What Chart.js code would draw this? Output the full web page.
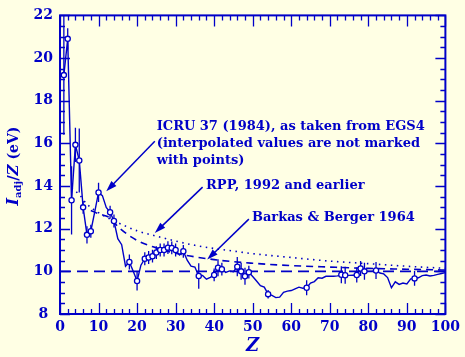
<!DOCTYPE html>
<html>
<head>
<meta charset="utf-8">
<script src="https://cdn.jsdelivr.net/npm/chart.js@4.4.0/dist/chart.umd.min.js"></script>
<style>
  html, body { margin: 0; padding: 0; background: #FFFFE4; }
  #wrap { width: 465px; height: 357px; position: relative; }
</style>
</head>
<body>
<div id="wrap"><canvas id="c"></canvas></div>
<script>
// ---- Data ----
// ICRU 37 adopted I/Z (eV) for Z = 1..100 (joined by a solid line)
const icruZ = [1,2,3,4,5,6,7,8,9,10,11,12,13,14,15,16,17,18,19,20,
  21,22,23,24,25,26,27,28,29,30,31,32,33,34,35,36,37,38,39,40,
  41,42,43,44,45,46,47,48,49,50,51,52,53,54,55,56,57,58,59,60,
  61,62,63,64,65,66,67,68,69,70,71,72,73,74,75,76,77,78,79,80,
  81,82,83,84,85,86,87,88,89,90,91,92,93,94,95,96,97,98,99,100];
const icruVal = [19.2,20.9,13.33,15.93,15.2,13.0,11.71,11.88,12.78,13.7,13.55,13.0,12.77,12.36,11.53,11.25,10.24,10.44,10.0,9.55,
  10.29,10.59,10.65,10.71,10.88,11.0,11.0,11.11,11.1,11.0,10.77,10.94,10.52,10.24,10.2,9.78,9.81,9.63,9.72,9.83,
  10.17,10.1,9.95,10.02,9.98,10.22,10.0,9.77,9.96,9.76,9.55,9.33,9.26,8.93,8.87,8.77,8.79,9.02,9.07,9.1,
  9.18,9.26,9.21,9.23,9.45,9.52,9.7,9.68,9.77,9.77,9.77,9.79,9.84,9.82,9.81,9.82,9.83,10.13,10.0,10.0,
  10.0,10.04,9.92,9.88,9.71,9.23,9.51,9.39,9.45,9.41,9.65,9.67,9.7,9.8,9.83,9.78,9.81,9.86,9.9,9.94];

// Values based on measurements (open circles with error flags)
const measZ   = [1,2,3,4,5,6,7,8,10,13,14,18,20,22,23,24,25,26,27,28,29,30,32,36,40,41,42,46,47,48,49,54,64,73,74,77,78,79,82,92];
const measVal = [19.2,20.9,13.33,15.93,15.2,13.0,11.71,11.88,13.7,12.77,12.36,10.44,9.55,10.59,10.65,10.71,10.88,11.0,11.0,11.11,11.1,11.0,10.94,9.78,9.83,10.17,10.1,10.22,10.0,9.77,9.96,8.93,9.23,9.84,9.82,9.83,10.13,10.0,10.04,9.67];
const measErr = [2.8,0.5,1.6,0.8,1.5,0.3,0.4,0.3,0.45,0.3,0.3,0.35,0.45,0.3,0.3,0.3,0.3,0.3,0.3,0.3,0.3,0.3,0.3,0.6,0.3,0.4,0.3,0.45,0.4,0.4,0.3,0.2,0.35,0.4,0.4,0.35,0.35,0.4,0.4,0.35];

// RPP, 1992 and earlier (dotted)
const rppZ   = [3,5,7,10,13,16,20,25,30,35,40,45,50,60,70,80,90,100];
const rppVal = [13.9,13.6,13.15,12.75,12.45,12.2,11.9,11.65,11.42,11.22,11.07,10.95,10.83,10.65,10.48,10.36,10.24,10.14];

// Barkas & Berger 1964 (dashed)
const bbZ   = [8,10,13,15,20,25,30,40,50,60,70,80,90,100];
const bbVal = [12.85,12.7,12.5,12.1,11.45,11.1,10.85,10.55,10.38,10.27,10.2,10.14,10.1,10.06];

// Reference level I/Z = 10 eV (long dashes)
const refZ   = [0,100];
const refVal = [10,10];

// Axis ticks
const xTicks = [0,10,20,30,40,50,60,70,80,90,100];
const yTicks = [8,10,12,14,16,18,20,22];

// ---- Styling ----
const BLUE = '#0000C8';
const BG = '#FFFFE4';
const SERIF = '"DejaVu Serif", "Liberation Serif", serif';

const pts = (xs, ys) => xs.map((x, i) => ({x: x, y: ys[i]}));

const annotations = [
  {lines: ['ICRU 37 (1984), as taken from EGS4', '(interpolated values are not marked', 'with points)'],
   at: [25.1, 16.77], lineStep: 0.78, from: [24.6, 16.1], to: [12.0, 13.75]},
  {lines: ['RPP, 1992 and earlier'], at: [37.9, 14.04], lineStep: 0, from: [37.0, 13.95], to: [24.6, 11.8]},
  {lines: ['Barkas & Berger 1964'], at: [49.8, 12.5], lineStep: 0, from: [49.0, 12.45], to: [38.2, 10.55]}
];

const decor = {
  id: 'decor',
  beforeDraw(chart) {
    const ctx = chart.ctx;
    ctx.save();
    ctx.fillStyle = BG;
    ctx.fillRect(0, 0, chart.width, chart.height);
    ctx.restore();
  },
  beforeDatasetsDraw(chart) {
    const {ctx, scales: {x, y}} = chart;
    ctx.save();
    ctx.beginPath();
    ctx.rect(chart.chartArea.left, chart.chartArea.top, chart.chartArea.right - chart.chartArea.left, chart.chartArea.bottom - chart.chartArea.top);
    ctx.clip();
    ctx.strokeStyle = BLUE;
    ctx.lineWidth = 1.3;
    measZ.forEach((z, i) => {
      const px = x.getPixelForValue(z);
      const y1 = y.getPixelForValue(measVal[i] - measErr[i]);
      const y2 = y.getPixelForValue(measVal[i] + measErr[i]);
      ctx.beginPath();
      ctx.moveTo(px, y1); ctx.lineTo(px, y2);
      ctx.stroke();
    });
    ctx.restore();
  },
  afterDraw(chart) {
    const {ctx, chartArea: a, scales: {x, y}} = chart;
    ctx.save();
    ctx.strokeStyle = BLUE;
    ctx.fillStyle = BLUE;
    // frame
    ctx.lineWidth = 2;
    ctx.strokeRect(a.left, a.top, a.right - a.left, a.bottom - a.top);
    // inward ticks
    ctx.lineWidth = 1.3;
    for (let v = 0; v <= 100; v += 2) {
      const px = Math.round(x.getPixelForValue(v)) + 0.5;
      const len = (v % 10 === 0) ? 11 : 5;
      ctx.beginPath();
      ctx.moveTo(px, a.bottom); ctx.lineTo(px, a.bottom - len);
      ctx.moveTo(px, a.top); ctx.lineTo(px, a.top + len);
      ctx.stroke();
    }
    for (let v = 8; v <= 22; v += 0.5) {
      const py = Math.round(y.getPixelForValue(v)) + 0.5;
      const len = (Math.abs(v % 2) < 1e-6) ? 10 : 5;
      ctx.beginPath();
      ctx.moveTo(a.left, py); ctx.lineTo(a.left + len, py);
      ctx.moveTo(a.right, py); ctx.lineTo(a.right - len, py);
      ctx.stroke();
    }
    // annotations
    ctx.font = 'bold 13px ' + SERIF;
    ctx.textBaseline = 'middle';
    ctx.textAlign = 'left';
    annotations.forEach(an => {
      an.lines.forEach((t, i) => {
        ctx.fillText(t, x.getPixelForValue(an.at[0]), y.getPixelForValue(an.at[1] - i * an.lineStep));
      });
      const x0 = x.getPixelForValue(an.from[0]), y0 = y.getPixelForValue(an.from[1]);
      const x1 = x.getPixelForValue(an.to[0]), y1 = y.getPixelForValue(an.to[1]);
      const ang = Math.atan2(y1 - y0, x1 - x0);
      const hl = 11, hw = 3.5;
      ctx.lineWidth = 1.5;
      ctx.beginPath();
      ctx.moveTo(x0, y0);
      ctx.lineTo(x1 - Math.cos(ang) * hl * 0.8, y1 - Math.sin(ang) * hl * 0.8);
      ctx.stroke();
      ctx.beginPath();
      ctx.moveTo(x1, y1);
      ctx.lineTo(x1 - Math.cos(ang) * hl - Math.sin(ang) * hw, y1 - Math.sin(ang) * hl + Math.cos(ang) * hw);
      ctx.lineTo(x1 - Math.cos(ang) * hl + Math.sin(ang) * hw, y1 - Math.sin(ang) * hl - Math.cos(ang) * hw);
      ctx.closePath();
      ctx.fill();
    });
    // y-axis title: I_adj/Z (eV)
    const segs = [
      {t: 'I', f: 'italic bold 16px ' + SERIF, dy: 0},
      {t: 'adj', f: 'bold 10px ' + SERIF, dy: 4},
      {t: '/', f: 'bold 15px ' + SERIF, dy: 0},
      {t: 'Z', f: 'italic bold 15px ' + SERIF, dy: 0},
      {t: ' (eV)', f: 'bold 14px ' + SERIF, dy: 0}
    ];
    let total = 0;
    segs.forEach(s => { ctx.font = s.f; s.w = ctx.measureText(s.t).width; total += s.w; });
    ctx.translate(14, 166);
    ctx.rotate(-Math.PI / 2);
    ctx.textBaseline = 'middle';
    let cx = -total / 2;
    segs.forEach(s => { ctx.font = s.f; ctx.fillText(s.t, cx, s.dy); cx += s.w; });
    ctx.restore();
  }
};

Chart.defaults.font.family = SERIF;
Chart.defaults.color = BLUE;

new Chart(document.getElementById('c'), {
  type: 'line',
  data: {
    datasets: [
      {label: 'ICRU 37', data: pts(icruZ, icruVal), borderColor: BLUE, borderWidth: 1.4, pointRadius: 0, tension: 0, order: 2},
      {label: 'measured', data: pts(measZ, measVal), showLine: false, pointStyle: 'circle', pointRadius: 2.6,
       pointBackgroundColor: '#FFFFFF', pointBorderColor: BLUE, pointBorderWidth: 1.3, order: 1},
      {label: 'RPP', data: pts(rppZ, rppVal), borderColor: BLUE, borderWidth: 1.6, borderDash: [1.5, 4.5], pointRadius: 0, cubicInterpolationMode: 'monotone', order: 3},
      {label: 'Barkas & Berger', data: pts(bbZ, bbVal), borderColor: BLUE, borderWidth: 1.6, borderDash: [7, 5], pointRadius: 0, cubicInterpolationMode: 'monotone', order: 4},
      {label: 'ref', data: pts(refZ, refVal), borderColor: BLUE, borderWidth: 1.6, borderDash: [11, 6], pointRadius: 0, order: 5}
    ]
  },
  options: {
    responsive: true,
    maintainAspectRatio: false,
    devicePixelRatio: 1,
    animation: false,
    layout: {padding: {top: 15, right: 16, left: 0, bottom: 0}},
    plugins: {legend: {display: false}, tooltip: {enabled: false}},
    scales: {
      x: {
        type: 'linear', min: 0, max: 100,
        afterBuildTicks: s => { s.ticks = xTicks.map(v => ({value: v})); },
        afterFit: s => { s.height = 43; },
        grid: {display: false, drawTicks: false},
        border: {display: false},
        ticks: {color: BLUE, padding: 5, font: {family: SERIF, weight: 'bold', size: 14}, maxRotation: 0, autoSkip: false},
        title: {display: true, text: 'Z', color: BLUE, padding: {top: 0, bottom: 0}, font: {family: SERIF, style: 'italic', weight: 'bold', size: 18}}
      },
      y: {
        type: 'linear', min: 8, max: 22,
        afterBuildTicks: s => { s.ticks = yTicks.map(v => ({value: v})); },
        afterFit: s => { s.width = 60; },
        grid: {display: false, drawTicks: false},
        border: {display: false},
        ticks: {color: BLUE, padding: 7, crossAlign: 'center', font: {family: SERIF, weight: 'bold', size: 14}, autoSkip: false}
      }
    }
  },
  plugins: [decor]
});
</script>
</body>
</html>
